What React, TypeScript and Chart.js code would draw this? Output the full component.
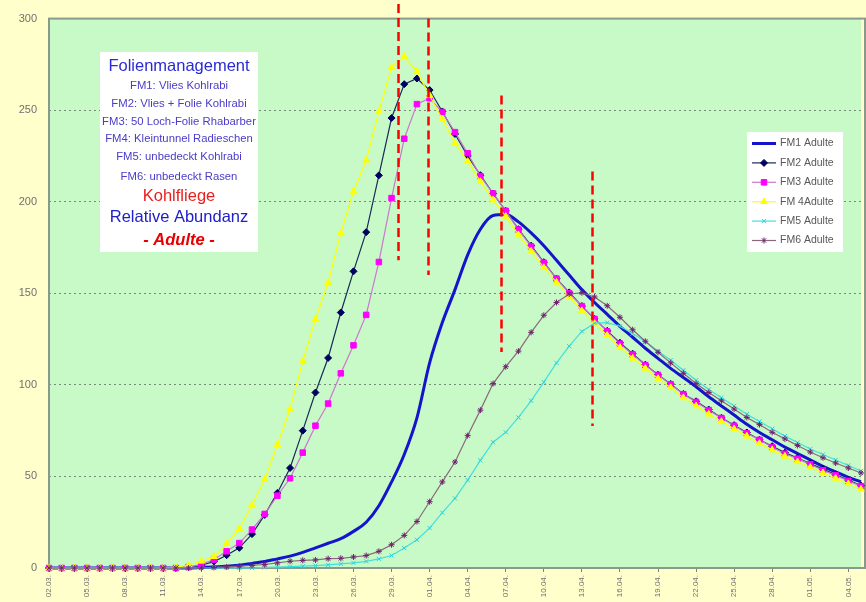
import React, { useEffect, useRef } from 'react';
import { Chart, registerables } from 'chart.js';

Chart.register(...registerables);

const FONT = "'Liberation Sans', Arial, sans-serif";

const dayLabels = [
  '02.03.', '03.03.', '04.03.', '05.03.', '06.03.', '07.03.', '08.03.', '09.03.', '10.03.', '11.03.',
  '12.03.', '13.03.', '14.03.', '15.03.', '16.03.', '17.03.', '18.03.', '19.03.', '20.03.', '21.03.',
  '22.03.', '23.03.', '24.03.', '25.03.', '26.03.', '27.03.', '28.03.', '29.03.', '30.03.', '31.03.',
  '01.04.', '02.04.', '03.04.', '04.04.', '05.04.', '06.04.', '07.04.', '08.04.', '09.04.', '10.04.',
  '11.04.', '12.04.', '13.04.', '14.04.', '15.04.', '16.04.', '17.04.', '18.04.', '19.04.', '20.04.',
  '21.04.', '22.04.', '23.04.', '24.04.', '25.04.', '26.04.', '27.04.', '28.04.', '29.04.', '30.04.',
  '01.05.', '02.05.', '03.05.', '04.05.', '05.05.',
];

const fm1 = [
  0, 0, 0, 0, 0, 0, 0, 0, 0, 0,
  0, 0, 0.3, 0.6, 1, 1.5, 2.5, 3.5, 5, 6.5,
  8.5, 11, 13.5, 16, 20, 25, 34, 47, 62, 82,
  112, 134, 152, 171, 185, 192.5, 193, 189, 183, 176,
  168, 160, 152, 145, 138.5, 132, 126, 120, 114.5, 109,
  104, 99, 93.5, 88.5, 83.5, 78.5, 74, 70, 66, 62.5,
  59, 55.5, 52.5, 49.5, 47,
];

const fm2 = [
  0, 0, 0, 0, 0, 0, 0, 0, 0, 0,
  0, 0.5, 1.5, 3.5, 7, 11, 18.5, 29, 41, 54.6,
  75, 95.8, 114.7, 139.5, 162, 183.4, 214.4, 245.7, 264.2, 267.3,
  261, 249.3, 237, 225, 214.5, 204.5, 195, 185, 176, 167,
  158, 150.5, 143, 136, 129.5, 123, 117, 111, 105.5, 100.5,
  95, 91, 86.5, 82, 78, 74, 70, 66.5, 63, 60,
  57, 54, 51, 48, 45,
];

const fm3 = [
  0, 0, 0, 0, 0, 0, 0, 0, 0, 0,
  0, 0.5, 2, 4.6, 9.1, 13.6, 21, 29.5, 39.5, 49,
  63, 77.7, 89.8, 106.3, 121.6, 138.2, 167.1, 202, 234.4, 253.3,
  256.5, 249, 238, 226.5, 214, 204.5, 195, 184.8, 175.6, 166.7,
  158, 150, 143, 136, 129.2, 122.5, 116.6, 110.8, 105.4, 100.3,
  94.9, 90.7, 86.2, 81.9, 77.7, 73.6, 70, 66, 62.4, 59.7,
  56.6, 53.4, 50.6, 47.6, 44.7,
];

const fm4 = [
  0, 0, 0, 0, 0, 0, 0, 0, 0, 0,
  0.5, 1.5, 3.7, 6.2, 13.3, 21.3, 34.4, 48.3, 67.3, 86.8,
  113, 135.9, 155.9, 183, 205.6, 222.7, 249.3, 273.3, 279.4, 271,
  258, 245, 232, 222, 211, 201, 192, 182, 173, 164,
  156, 148, 140.5, 133.5, 127, 120.5, 114.5, 109, 103.5, 98.5,
  93, 88.5, 84, 80, 76, 72, 68, 64.5, 61, 58,
  55, 52, 49, 46, 43,
];

const fm5 = [
  0, 0, 0, 0, 0, 0, 0, 0, 0, 0,
  0, 0, 0, 0, 0, 0, 0, 0.3, 0.5, 0.7,
  1, 1.3, 1.7, 2.2, 2.8, 3.6, 5, 6.8, 10.9, 15.4,
  21.8, 30.2, 38, 48, 58.8, 68.7, 74.1, 82.2, 91.3, 101.5,
  112, 121.1, 129.2, 133.7, 134, 132, 128, 123.5, 118.5, 113.5,
  108, 102.5, 97.5, 93, 88.5, 84, 80, 76, 72, 68.5,
  65, 62, 59, 56, 53,
];

const fm6 = [
  0, 0, 0, 0, 0, 0, 0, 0, 0, 0,
  0, 0, 0, 0.3, 0.6, 1, 1.4, 1.9, 2.8, 3.7,
  4.2, 4.4, 5.1, 5.3, 6, 6.8, 9.1, 12.7, 17.8, 25.4,
  36.2, 47, 57.9, 72.3, 86.2, 100.7, 109.9, 118.4, 128.7, 138,
  145, 149.6, 150.3, 148, 143.2, 136.9, 130.1, 123.8, 117.8, 112,
  106.3, 100.7, 95.8, 91.3, 86.8, 82.2, 78.3, 74.1, 70.5, 66.9,
  63.3, 60.2, 57.3, 54.6, 51.9,
];

const seriesNames = ['FM1 Adulte', 'FM2 Adulte', 'FM3 Adulte', 'FM 4Adulte', 'FM5 Adulte', 'FM6 Adulte'];
const seriesValues = [fm1, fm2, fm3, fm4, fm5, fm6];

const yTicks = [0, 50, 100, 150, 200, 250, 300];

// vertical red dashed marker lines: x in day index, y range in value units
const markerX = [27.5, 29.9, 35.6, 42.8];
const markerTop = [308, 300, 258, 216.5];
const markerBottom = [168, 160, 118, 77.5];

const infoTitle = 'Folienmanagement';
const infoLines = [
  'FM1: Vlies Kohlrabi',
  'FM2: Vlies + Folie Kohlrabi',
  'FM3: 50 Loch-Folie Rhabarber',
  'FM4: Kleintunnel Radieschen',
  'FM5: unbedeckt Kohlrabi',
  'FM6: unbedeckt Rasen',
];
const infoPest = 'Kohlfliege';
const infoMeasure = 'Relative Abundanz';
const infoStage = '- Adulte -';

type Style = {
  color: string;
  width: number;
  point: string;
  radius: number;
  pointFill: string;
  pointStroke: string;
};

const styles: Style[] = [
  { color: '#1414cc', width: 3, point: 'none', radius: 0, pointFill: '#1414cc', pointStroke: '#1414cc' },
  { color: '#1a2a5a', width: 1.2, point: 'rectRot', radius: 3.5, pointFill: '#000060', pointStroke: '#000060' },
  { color: '#cc77cc', width: 1.2, point: 'rect', radius: 3.9, pointFill: '#ff00ff', pointStroke: '#ff00ff' },
  { color: '#ffff00', width: 1.2, point: 'triangle', radius: 3.8, pointFill: '#ffff00', pointStroke: '#ffff00' },
  { color: '#40e0e0', width: 1.2, point: 'crossRot', radius: 3, pointFill: '#40e0e0', pointStroke: '#30d0d8' },
  { color: '#8a6a7a', width: 1.2, point: 'star', radius: 3, pointFill: '#702070', pointStroke: '#702070' },
];

function drawMarker(ctx: CanvasRenderingContext2D, st: Style, x: number, y: number) {
  const r = st.radius;
  ctx.save();
  ctx.fillStyle = st.pointFill;
  ctx.strokeStyle = st.pointStroke;
  ctx.lineWidth = 1;
  ctx.beginPath();
  if (st.point === 'rectRot') {
    ctx.moveTo(x, y - r);
    ctx.lineTo(x + r, y);
    ctx.lineTo(x, y + r);
    ctx.lineTo(x - r, y);
    ctx.closePath();
    ctx.fill();
    ctx.stroke();
  } else if (st.point === 'rect') {
    const s = r * Math.SQRT1_2;
    ctx.rect(x - s, y - s, 2 * s, 2 * s);
    ctx.fill();
    ctx.stroke();
  } else if (st.point === 'triangle') {
    ctx.moveTo(x, y - r);
    ctx.lineTo(x + r * 0.87, y + r * 0.5);
    ctx.lineTo(x - r * 0.87, y + r * 0.5);
    ctx.closePath();
    ctx.fill();
    ctx.stroke();
  } else if (st.point === 'crossRot') {
    const s = r * Math.SQRT1_2;
    ctx.moveTo(x - s, y - s);
    ctx.lineTo(x + s, y + s);
    ctx.moveTo(x + s, y - s);
    ctx.lineTo(x - s, y + s);
    ctx.stroke();
  } else if (st.point === 'star') {
    const s = r * Math.SQRT1_2;
    ctx.moveTo(x - s, y - s);
    ctx.lineTo(x + s, y + s);
    ctx.moveTo(x + s, y - s);
    ctx.lineTo(x - s, y + s);
    ctx.moveTo(x, y - r);
    ctx.lineTo(x, y + r);
    ctx.stroke();
  }
  ctx.restore();
}

const decorPlugin = {
  id: 'decor',
  beforeDraw(chart: any) {
    const { ctx, chartArea: a, width, height } = chart;
    ctx.save();
    ctx.fillStyle = '#ffffcc';
    ctx.fillRect(0, 0, width, height);
    ctx.fillStyle = '#c8fac8';
    ctx.fillRect(a.left, a.top, a.right - a.left, a.bottom - a.top);
    ctx.restore();
  },
  beforeDatasetsDraw(chart: any) {
    const { ctx, chartArea: a } = chart;
    ctx.save();
    ctx.strokeStyle = '#8a9a8a';
    ctx.lineWidth = 2;
    ctx.strokeRect(a.left, a.top, a.right - a.left + 4, a.bottom - a.top);
    ctx.restore();
  },
  afterDraw(chart: any) {
    const { ctx } = chart;
    const xs = chart.scales.x;
    const ys = chart.scales.y;

    // red dashed lines
    ctx.save();
    ctx.strokeStyle = '#ff0000';
    ctx.lineWidth = 2.5;
    ctx.setLineDash([9, 5]);
    markerX.forEach((mx, i) => {
      const px = Math.round(xs.getPixelForValue(mx)) + 0.5;
      ctx.beginPath();
      ctx.moveTo(px, ys.getPixelForValue(markerTop[i]));
      ctx.lineTo(px, ys.getPixelForValue(markerBottom[i]));
      ctx.stroke();
    });
    ctx.restore();

    // info box
    ctx.save();
    ctx.fillStyle = '#ffffff';
    ctx.fillRect(100, 52, 158, 200);
    ctx.textAlign = 'center';
    ctx.textBaseline = 'middle';
    const cx = 179;
    ctx.fillStyle = '#2a2ad6';
    ctx.font = `16.5px ${FONT}`;
    ctx.fillText(infoTitle, cx, 66);
    ctx.fillStyle = '#4a3cc8';
    ctx.font = `11.3px ${FONT}`;
    const lineYs = [86, 103.5, 121.5, 139, 157, 176.5];
    infoLines.forEach((t, i) => ctx.fillText(t, cx, lineYs[i]));
    ctx.fillStyle = '#e82020';
    ctx.font = `16.5px ${FONT}`;
    ctx.fillText(infoPest, cx, 196.5);
    ctx.fillStyle = '#2020c8';
    ctx.fillText(infoMeasure, cx, 217);
    ctx.fillStyle = '#e80000';
    ctx.font = `italic bold 16.5px ${FONT}`;
    ctx.fillText(infoStage, cx, 240);
    ctx.restore();

    // legend
    ctx.save();
    ctx.fillStyle = '#ffffff';
    ctx.fillRect(747, 132, 96, 120);
    ctx.textAlign = 'left';
    ctx.textBaseline = 'middle';
    ctx.font = `10.5px ${FONT}`;
    seriesNames.forEach((name, i) => {
      const st = styles[i];
      const y = 143.5 + i * 19.4;
      ctx.strokeStyle = st.color;
      ctx.lineWidth = st.width;
      ctx.beginPath();
      ctx.moveTo(752, y);
      ctx.lineTo(776, y);
      ctx.stroke();
      if (st.point !== 'none') drawMarker(ctx, st, 764, y);
      ctx.fillStyle = '#585858';
      ctx.fillText(name, 780, y);
    });
    ctx.restore();
  },
};

export default function App() {
  const ref = useRef<HTMLCanvasElement | null>(null);

  useEffect(() => {
    if (!ref.current) return;
    const datasets = seriesValues.map((vals, i) => {
      const st = styles[i];
      return {
        label: seriesNames[i],
        data: vals.map((v, d) => ({ x: d, y: v })),
        borderColor: st.color,
        backgroundColor: st.pointFill,
        borderWidth: st.width,
        pointStyle: st.point === 'none' ? 'circle' : st.point,
        pointRadius: st.radius,
        pointBackgroundColor: st.pointFill,
        pointBorderColor: st.pointStroke,
        pointBorderWidth: 1,
        tension: 0,
        cubicInterpolationMode: i === 0 ? 'monotone' : 'default',
        order: 6 - i,
        clip: false,
      };
    });

    const chart = new Chart(ref.current, {
      type: 'line',
      data: { datasets: datasets as any },
      plugins: [decorPlugin],
      options: {
        responsive: false,
        maintainAspectRatio: false,
        animation: false,
        layout: { padding: { top: 14, right: 0, bottom: 0, left: 0 } },
        plugins: { legend: { display: false }, tooltip: { enabled: false } },
        scales: {
          x: {
            type: 'linear',
            min: 0,
            max: dayLabels.length - 1,
            afterBuildTicks: (s: any) => {
              s.ticks = dayLabels.map((_, i) => ({ value: i })).filter((t) => t.value % 3 === 0);
            },
            afterFit: (s: any) => {
              s.height = 34;
            },
            ticks: {
              autoSkip: false,
              minRotation: 90,
              maxRotation: 90,
              padding: 3,
              color: '#707070',
              font: { size: 8, family: FONT },
              callback: (v: any) => dayLabels[Math.round(Number(v))] ?? '',
            },
            grid: { drawOnChartArea: false, drawTicks: true, tickLength: 4, color: '#808080' },
            border: { display: false },
          },
          y: {
            min: 0,
            max: 300,
            afterBuildTicks: (s: any) => {
              s.ticks = yTicks.map((v) => ({ value: v }));
            },
            afterFit: (s: any) => {
              s.width = 49;
            },
            ticks: { padding: 12, color: '#707070', font: { size: 11, family: FONT } },
            grid: { color: '#7a8a7a', drawTicks: false, lineWidth: 1 },
            border: { display: false, dash: [2, 3] },
          },
        },
      } as any,
    });
    return () => chart.destroy();
  }, []);

  return (
    <div style={{ position: 'fixed', left: 0, top: 0, width: 866, height: 602, overflow: 'hidden', background: '#ffffcc' }}>
      <canvas ref={ref} width={866} height={602} style={{ display: 'block', width: 866, height: 602 }} />
    </div>
  );
}
